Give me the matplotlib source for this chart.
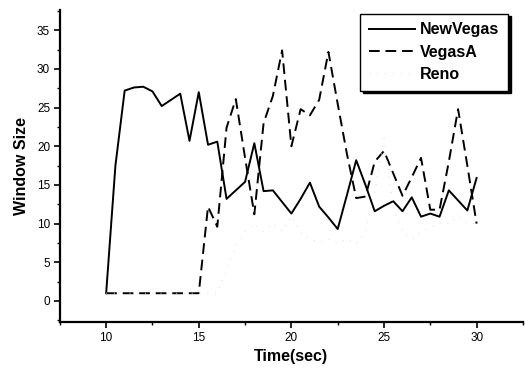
import numpy as np
import matplotlib
matplotlib.use("Agg")
import matplotlib.pyplot as plt
from matplotlib.ticker import MultipleLocator

plt.rcParams['font.family'] = ['Liberation Sans', 'DejaVu Sans']

# time samples every 0.5 s
t = np.arange(10, 30.01, 0.5)

new_vegas = [1, 17.5, 27.2, 27.6, 27.7, 27.1, 25.2, 26.0, 26.8, 20.7,
             27.0, 20.2, 20.6, 13.2, 14.3, 15.4, 20.4, 14.2, 14.3, 12.8,
             11.3, 13.2, 15.3, 12.2, 10.8, 9.3, 13.7, 18.2, 15.0, 11.6,
             12.3, 12.9, 11.6, 13.4, 10.9, 11.3, 10.9, 14.3, 13.0, 11.7,
             15.9]
vegas_a = [1, 1, 1, 1, 1, 1, 1, 1, 1, 1,
           1, 12.2, 9.6, 22.4, 26.1, 18.5, 11.2, 23.0, 26.5, 32.4,
           20.0, 24.8, 24.0, 26.0, 32.2, 25.5, 19.0, 13.3, 13.5, 18.0,
           19.4, 16.5, 13.6, 16.0, 18.5, 11.8, 11.8, 18.0, 24.8, 17.5,
           10.0]
reno = [1, 1, 1, 1, 1, 1, 1, 1, 1, 1,
        1, 1, 1, 4, 7, 9, 10, 9, 10, 9,
        11, 8.8, 8, 7.6, 8, 7.5, 8, 7.4, 9, 14,
        21, 12, 9, 8, 9, 9.5, 10, 10, 11, 10,
        10]

fig = plt.figure(figsize=(5.25, 3.76), dpi=100)
ax = fig.add_axes([0.114, 0.144, 0.882, 0.829])

ax.plot(t, new_vegas, color='black', lw=1.4, label='NewVegas')
ax.plot(t, vegas_a, color='black', lw=1.4, ls=(0, (5.5, 3)), label='VegasA')
ax.plot(t, reno, color='#dadada', lw=0.7, ls=(0, (1, 7)), label='Reno')

ax.set_xlim(7.5, 32.5)
ax.set_ylim(-2.7, 37.6)
ax.xaxis.set_major_locator(MultipleLocator(5))
ax.xaxis.set_minor_locator(MultipleLocator(2.5))
ax.yaxis.set_major_locator(MultipleLocator(5))
ax.yaxis.set_minor_locator(MultipleLocator(2.5))
ax.tick_params(which='major', direction='out', length=4, width=1.2, labelsize=8.5, pad=3)
ax.tick_params(which='minor', direction='out', length=2.5, width=1)
ax.set_xticks([10, 15, 20, 25, 30])

for s in ['top', 'right']:
    ax.spines[s].set_visible(False)
for s in ['left', 'bottom']:
    ax.spines[s].set_linewidth(1.6)

ax.set_xlabel('Time(sec)', fontsize=11.5, fontweight='bold', labelpad=4)
ax.set_ylabel('Window Size', fontsize=11.5, fontweight='bold', labelpad=6)

leg = ax.legend(loc='upper right', bbox_to_anchor=(0.983, 0.985),
                bbox_transform=fig.transFigure, frameon=True, fancybox=False,
                edgecolor='black', framealpha=1, handlelength=2.9,
                labelspacing=0.45, borderpad=0.55, handletextpad=0.3,
                prop={'weight': 'bold', 'size': 11.5},
                shadow={'color': 'black', 'alpha': 1})
leg.get_frame().set_linewidth(1.0)

fig.savefig('out.png', dpi=100)
